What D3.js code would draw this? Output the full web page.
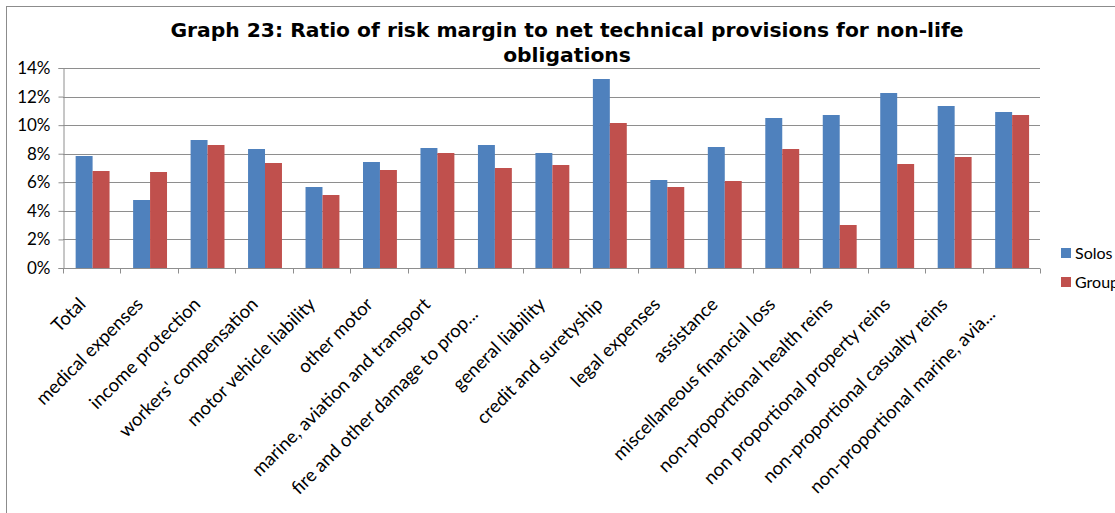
<!DOCTYPE html>
<html>
<head>
<meta charset="utf-8">
<script src="https://cdn.jsdelivr.net/npm/d3@7"></script>
<style>
  body { margin: 0; background: #fff; }
  svg { display: block; }
  .tick text { font-family: Lato, "Open Sans", sans-serif; fill: #000; }
</style>
</head>
<body>
<svg id="chart"></svg>
<script>
const categories = [
	"Total", "medical expenses", "income protection", "workers' compensation",
	"motor vehicle liability", "other motor", "marine, aviation and transport",
	"fire and other damage to prop...", "general liability", "credit and suretyship",
	"legal expenses", "assistance", "miscellaneous financial loss",
	"non-proportional health reins", "non proportional property reins",
	"non-proportional casualty reins", "non-proportional marine, avia..."
];
const seriesNames = ["Solos", "Groups"];
const solos = [7.84, 4.76, 8.96, 8.33, 5.67, 7.42, 8.40, 8.61, 8.05, 13.23, 6.16, 8.47, 10.50, 10.71, 12.25, 11.34, 10.92];
const groups = [6.79, 6.72, 8.61, 7.35, 5.11, 6.86, 8.05, 7.00, 7.21, 10.15, 5.67, 6.09, 8.33, 3.01, 7.28, 7.77, 10.71];
const yTicks = [0, 2, 4, 6, 8, 10, 12, 14];
const colors = ["#4F81BD", "#C0504D"];

const width = 1115, height = 513;
const margin = { top: 68, right: 75, bottom: 245, left: 63 };

const svg = d3.select("#chart").attr("width", width).attr("height", height);

// chart frame (right and bottom edges run past the picture)
svg.append("rect")
	.attr("x", 6.5).attr("y", 6.5)
	.attr("width", width + 20).attr("height", height + 20)
	.attr("fill", "none").attr("stroke", "#8c8c8c").attr("stroke-width", 1);

const x = d3.scaleBand()
	.domain(categories)
	.range([margin.left, width - margin.right]);

const x1 = d3.scaleBand()
	.domain(seriesNames)
	.range([x.bandwidth() * 0.22, x.bandwidth() * 0.81]);

const y = d3.scaleLinear()
	.domain([0, 14])
	.range([height - margin.bottom, margin.top]);

// gridlines
svg.append("g")
	.selectAll("line")
	.data(yTicks)
	.join("line")
	.attr("x1", margin.left).attr("x2", width - margin.right)
	.attr("y1", (d) => Math.round(y(d)) + 0.5)
	.attr("y2", (d) => Math.round(y(d)) + 0.5)
	.attr("stroke", "#8e8e8e");

// bars
const rows = categories.map((c, i) => ({ cat: c, vals: [solos[i], groups[i]] }));
svg.append("g")
	.selectAll("g")
	.data(rows)
	.join("g")
	.attr("transform", (d) => `translate(${x(d.cat)},0)`)
	.selectAll("rect")
	.data((d) => d.vals.map((v, j) => ({ key: seriesNames[j], v, j })))
	.join("rect")
	.attr("x", (d) => x1(d.key))
	.attr("width", x1.bandwidth())
	.attr("y", (d) => y(d.v))
	.attr("height", (d) => y(0) - y(d.v))
	.attr("fill", (d) => colors[d.j]);

// y axis
const yAxis = svg.append("g")
	.attr("transform", `translate(${margin.left + 0.5},0)`)
	.call(d3.axisLeft(y).tickValues(yTicks).tickFormat((d) => d + "%").tickSize(5).tickPadding(8));
yAxis.selectAll("path, line").attr("stroke", "#8e8e8e");
yAxis.selectAll("text").attr("font-size", 17);

// x axis line with boundary ticks
const xAxis = svg.append("g");
const y0 = Math.round(y(0)) + 0.5;
xAxis.append("line")
	.attr("x1", margin.left).attr("x2", width - margin.right)
	.attr("y1", y0).attr("y2", y0).attr("stroke", "#8e8e8e");
xAxis.selectAll("line.tk")
	.data(categories.concat(["end"]))
	.join("line")
	.attr("class", "tk")
	.attr("x1", (d, i) => Math.round(margin.left + i * x.step()) + 0.5)
	.attr("x2", (d, i) => Math.round(margin.left + i * x.step()) + 0.5)
	.attr("y1", y0).attr("y2", y0 + 5)
	.attr("stroke", "#8e8e8e");

// rotated category labels (truncated ones sit a little further from the axis)
xAxis.selectAll("text")
	.data(categories)
	.join("text")
	.attr("transform", (d) => `translate(${x(d) + x.bandwidth() / 2 - 5},${y0 + 37}) rotate(-45)`)
	.attr("text-anchor", "end")
	.attr("dx", (d) => d.endsWith("...") ? -14 : 0)
	.attr("font-family", "Lato, 'Open Sans', sans-serif")
	.attr("font-size", 18.5)
	.text((d) => d);

// title
const title = svg.append("text")
	.attr("text-anchor", "middle")
	.attr("font-family", "Verdana, 'DejaVu Sans', sans-serif")
	.attr("font-weight", "bold")
	.attr("font-size", 20.3);
title.append("tspan").attr("x", 567).attr("y", 37)
	.text("Graph 23: Ratio of risk margin to net technical provisions for non-life");
title.append("tspan").attr("x", 567).attr("y", 62).text("obligations");

// legend
const legend = svg.append("g")
	.selectAll("g")
	.data(seriesNames)
	.join("g")
	.attr("transform", (d, i) => `translate(1061,${248 + i * 29})`);
legend.append("rect")
	.attr("width", 10).attr("height", 10)
	.attr("fill", (d, i) => colors[i]);
legend.append("text")
	.attr("x", 14).attr("y", 5).attr("dy", "0.35em")
	.attr("font-family", "Lato, 'Open Sans', sans-serif")
	.attr("font-size", 16)
	.text((d) => d);
</script>
</body>
</html>
